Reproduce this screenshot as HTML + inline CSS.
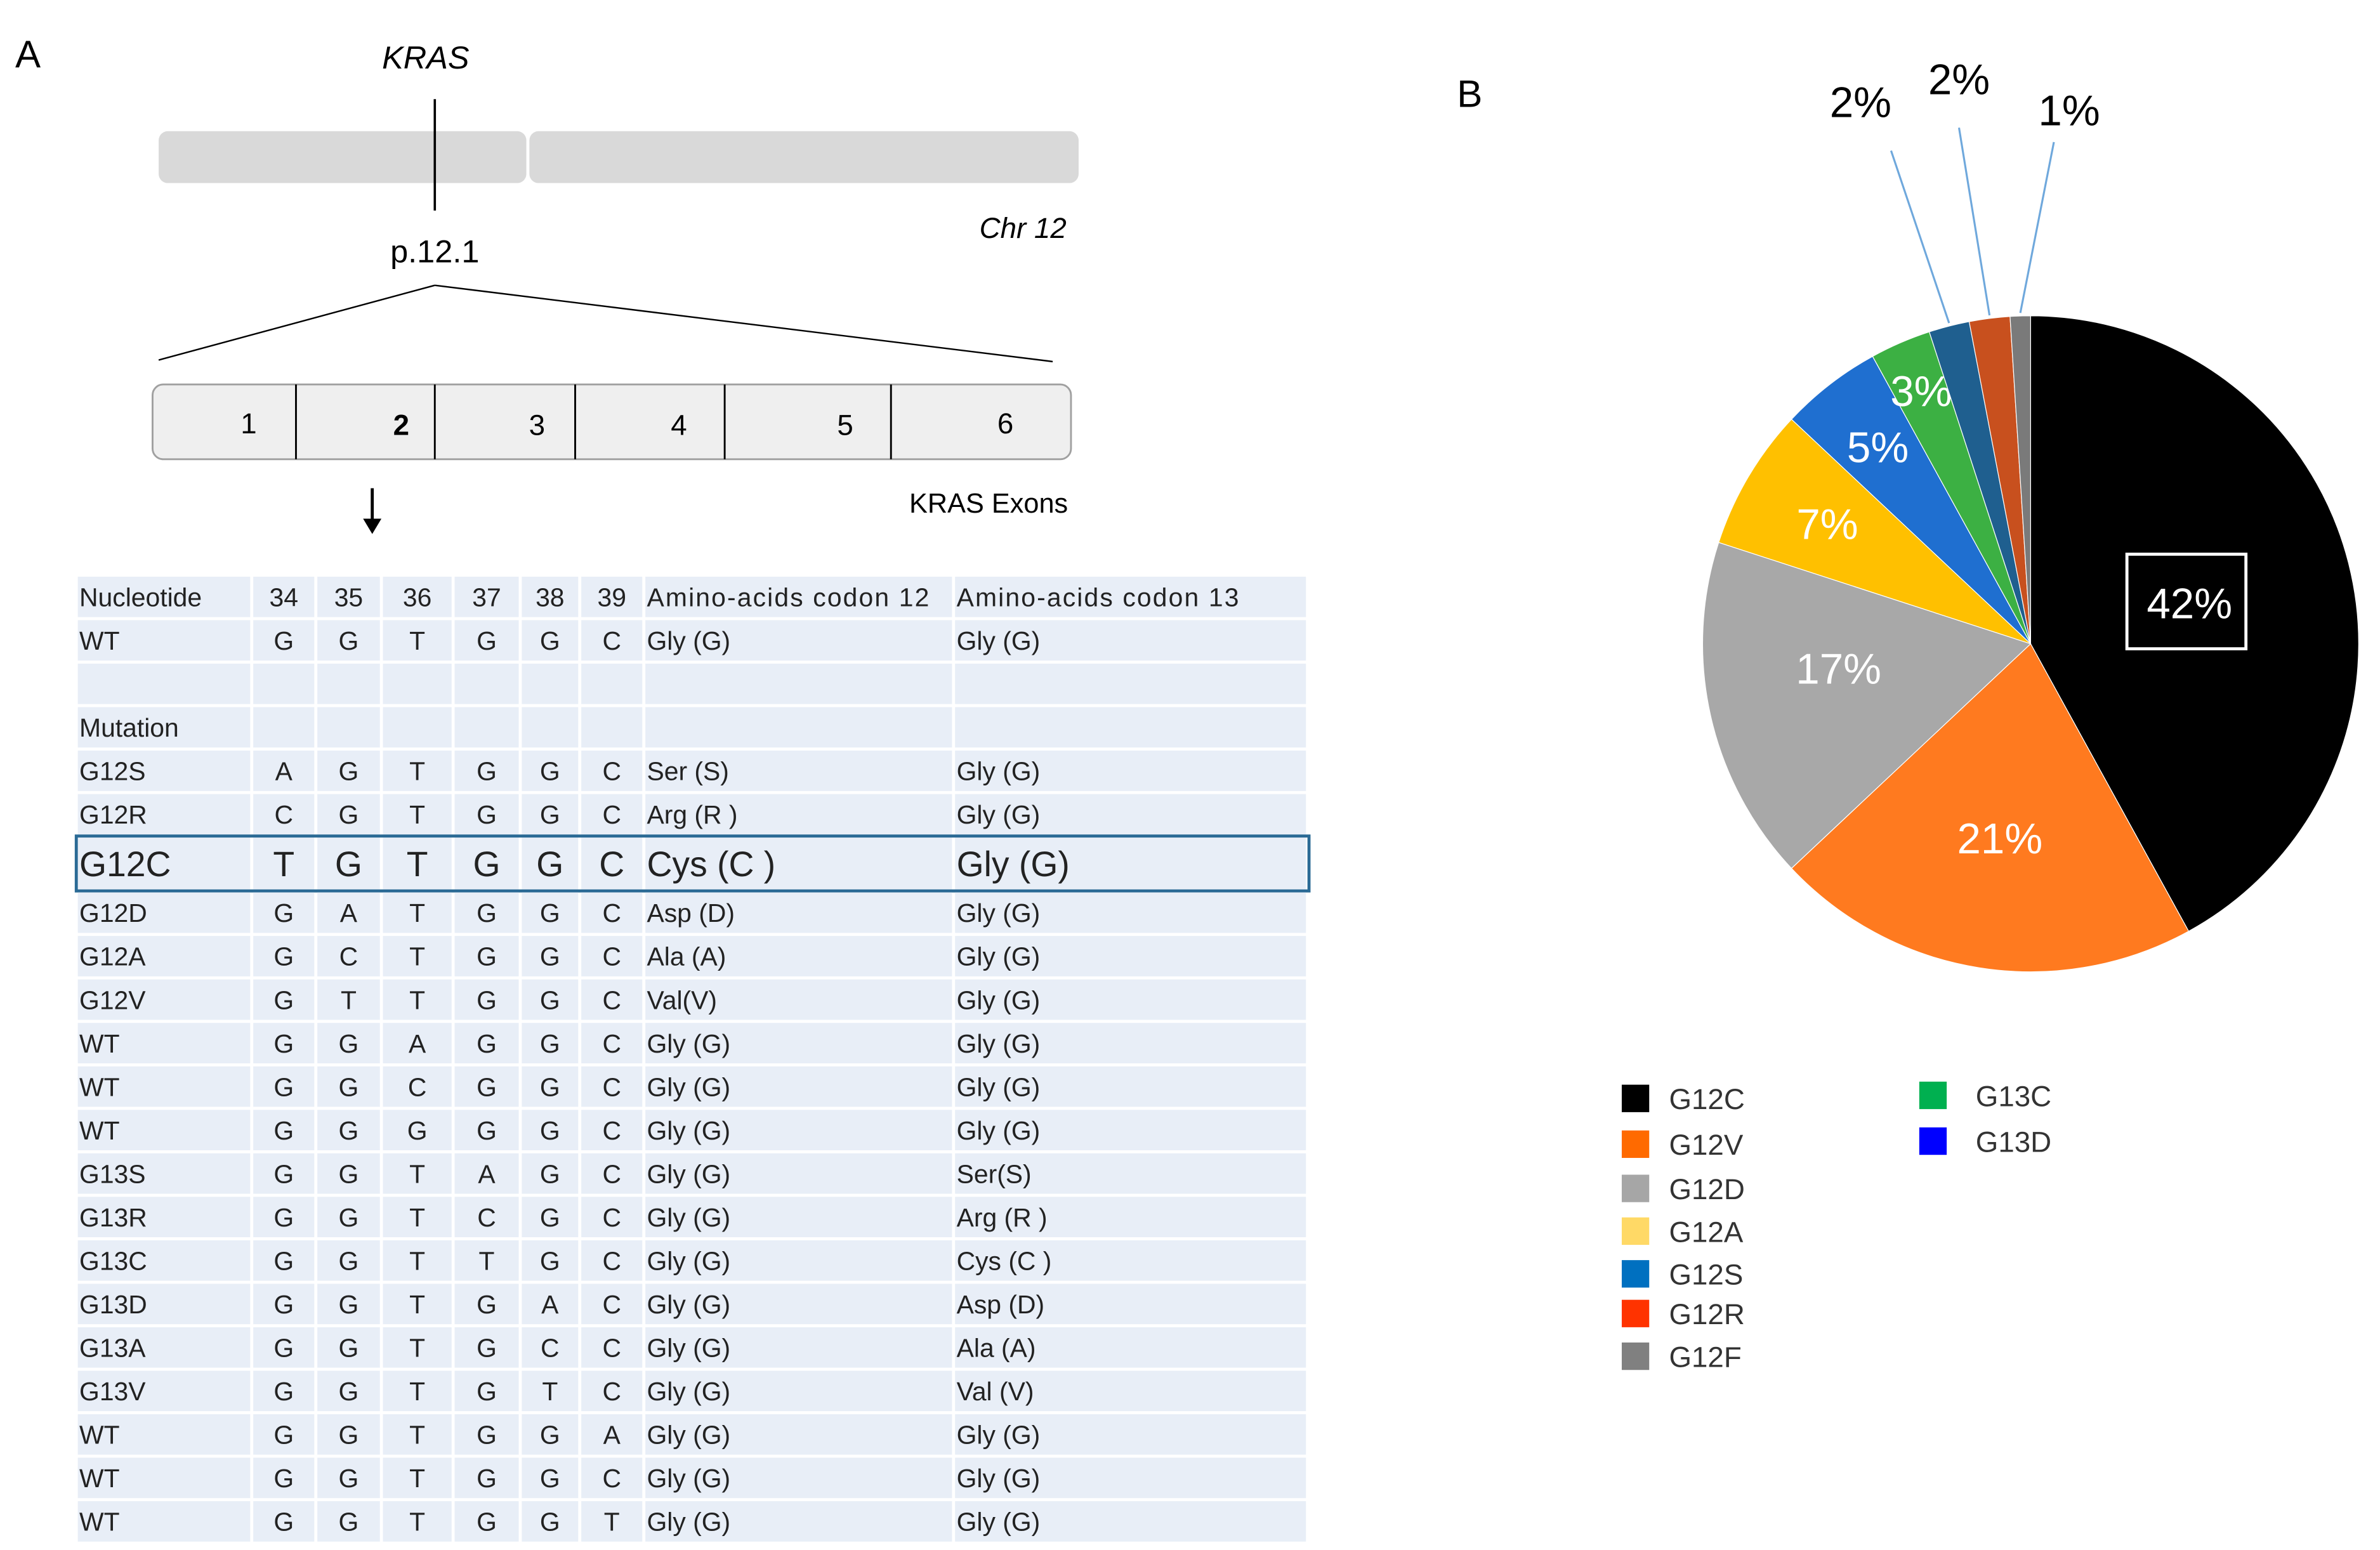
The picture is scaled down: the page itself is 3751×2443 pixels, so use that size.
<!DOCTYPE html>
<html><head><meta charset="utf-8"><style>
html,body{margin:0;padding:0;background:#fff}
svg{display:block;font-family:"Liberation Sans",sans-serif}
</style></head><body>
<svg id="fig" width="3751" height="2443" viewBox="0 0 1560 1016" xmlns="http://www.w3.org/2000/svg">
<rect width="1560" height="1016" fill="#fff"/>
<text x="10" y="44" font-size="25">A</text>
<text x="955" y="70" font-size="25">B</text>
<g>
<text x="279" y="45" font-size="21" font-style="italic" text-anchor="middle">KRAS</text>
<rect x="104" y="86" width="241" height="34" rx="6" fill="#d9d9d9"/>
<rect x="347" y="86" width="360" height="34" rx="6" fill="#d9d9d9"/>
<line x1="285" y1="65" x2="285" y2="138" stroke="#000" stroke-width="1.5"/>
<text x="285" y="172" font-size="21" text-anchor="middle">p.12.1</text>
<text x="699" y="156" font-size="19" font-style="italic" text-anchor="end">Chr 12</text>
<line x1="285" y1="187" x2="104" y2="236" stroke="#000" stroke-width="1"/>
<line x1="285" y1="187" x2="690" y2="237" stroke="#000" stroke-width="1"/>
<rect x="100" y="252" width="602" height="49" rx="7" fill="#efefef" stroke="#a0a0a0" stroke-width="1.2"/>
<g stroke="#000" stroke-width="1.2"><line x1="194" y1="252" x2="194" y2="301"/><line x1="285" y1="252" x2="285" y2="301"/><line x1="377" y1="252" x2="377" y2="301"/><line x1="475" y1="252" x2="475" y2="301"/><line x1="584" y1="252" x2="584" y2="301"/></g>
<g font-size="19" text-anchor="middle">
<text x="163" y="284">1</text><text x="263" y="285" font-weight="bold">2</text><text x="352" y="285">3</text><text x="445" y="285">4</text><text x="554" y="285">5</text><text x="659" y="284">6</text></g>
<text x="700" y="336" font-size="18" text-anchor="end">KRAS Exons</text>
<line x1="244" y1="320" x2="244" y2="344" stroke="#000" stroke-width="2"/>
<path d="M238,340 L244,350 L250,340 Z" fill="#000"/>
</g>
<g id="table"></g>
<g id="pie"></g>
<g id="legend"></g>
</svg>
<script>
const sliceNames=["G12C","G12V","G12D","G12A","G13D","G13C","G12S","G12R","G12F"];
const sliceValues=[42,21,17,7,5,3,2,2,1];
const sliceLabels=["42%","21%","17%","7%","5%","3%","2%","2%","1%"];
const sliceColors=["#000000","#ff7a1f","#a8a8a8","#ffc000","#1f6fd0","#3cb043","#1f5f8f","#c8501e","#7a7a7a"];
const legendNames=["G12C","G12V","G12D","G12A","G12S","G12R","G12F","G13C","G13D"];
const legendColors=["#000000","#ff6a00","#a6a6a6","#ffd966","#0070c0","#ff3300","#808080","#00b050","#0000ff"];
const tableRows=[
["Nucleotide","34","35","36","37","38","39","Amino-acids codon 12","Amino-acids codon 13"],
["WT","G","G","T","G","G","C","Gly (G)","Gly (G)"],
["","","","","","","","",""],
["Mutation","","","","","","","",""],
["G12S","A","G","T","G","G","C","Ser (S)","Gly (G)"],
["G12R","C","G","T","G","G","C","Arg (R )","Gly (G)"],
["G12C","T","G","T","G","G","C","Cys (C )","Gly (G)"],
["G12D","G","A","T","G","G","C","Asp (D)","Gly (G)"],
["G12A","G","C","T","G","G","C","Ala (A)","Gly (G)"],
["G12V","G","T","T","G","G","C","Val(V)","Gly (G)"],
["WT","G","G","A","G","G","C","Gly (G)","Gly (G)"],
["WT","G","G","C","G","G","C","Gly (G)","Gly (G)"],
["WT","G","G","G","G","G","C","Gly (G)","Gly (G)"],
["G13S","G","G","T","A","G","C","Gly (G)","Ser(S)"],
["G13R","G","G","T","C","G","C","Gly (G)","Arg (R )"],
["G13C","G","G","T","T","G","C","Gly (G)","Cys (C )"],
["G13D","G","G","T","G","A","C","Gly (G)","Asp (D)"],
["G13A","G","G","T","G","C","C","Gly (G)","Ala (A)"],
["G13V","G","G","T","G","T","C","Gly (G)","Val (V)"],
["WT","G","G","T","G","G","A","Gly (G)","Gly (G)"],
["WT","G","G","T","G","G","C","Gly (G)","Gly (G)"],
["WT","G","G","T","G","G","T","Gly (G)","Gly (G)"]];
const NS="http://www.w3.org/2000/svg";
function mk(tag,attrs,parent){const e=document.createElementNS(NS,tag);for(const k in attrs)e.setAttribute(k,attrs[k]);parent.appendChild(e);return e;}
const tb=document.getElementById('table');
const colB=[50,165,207,250,297,341,380,422,625,857];
let y=378;
tableRows.forEach((r,i)=>{
  const big=(r[0]==="G12C");
  const h=big?34:26.5;
  for(let c=0;c<9;c++){
    const cell=mk('rect',{x:colB[c]+1,y:y,width:colB[c+1]-colB[c]-2,height:h,fill:"#e8eef7"},tb);
    
    
    if(!r[c])continue;
    const fs=big?23:17;
    const cx=(c>=1&&c<=6)?(colB[c]+colB[c+1])/2:colB[c]+2;
    const t=mk('text',{x:cx,y:y+h/2+fs*0.36,'font-size':fs,fill:"#222",'text-anchor':(c>=1&&c<=6)?'middle':'start'},tb);
    if((c===7||c===8)&&r[c].length>12)t.setAttribute('textLength',185);
    t.textContent=r[c];
    
    
  }
  if(big){const b=mk('rect',{x:50,y:y-1,width:808,height:h+2,fill:"none",stroke:"#2a6a95","stroke-width":2},tb);
    
    }
  y+=h+2;
});
const pg=document.getElementById('pie');
const cx=1331,cy=422,R=215;
const total=sliceValues.reduce((a,b)=>a+b,0);
let a0=0;
const pt=(a,r)=>[cx+r*Math.sin(a),cy-r*Math.cos(a)];
const outOff=[[-38,-115,-20,-22],[-20,-125,0,-22],[22,-114,10,-11]];
let oi=0;
sliceValues.forEach((v,i)=>{
  const a1=a0+v/total*2*Math.PI;
  const p0=pt(a0,R),p1=pt(a1,R);
  const large=(a1-a0)>Math.PI?1:0;
  const s=mk('path',{d:`M${cx},${cy} L${p0[0]},${p0[1]} A${R},${R} 0 ${large} 1 ${p1[0]},${p1[1]} Z`,fill:sliceColors[i],stroke:"#fff","stroke-width":0.5},pg);
  
  
  const am=(a0+a1)/2;
  if(v>=3){
    const rr=v>=40?0.5:(v>=15?0.6:(v>=7?0.72:(v>=5?0.76:0.84)));
    const lp=pt(am,R*rr);
    const dy=v>=15&&v<20?-2:10;
    const t=mk('text',{x:lp[0],y:lp[1]+dy,'font-size':28,fill:"#fff",'text-anchor':'middle'},pg);
    t.textContent=sliceLabels[i];
    
    
    if(v>=40){const bb=mk('rect',{x:lp[0]-41,y:lp[1]-32,width:78,height:62,fill:"none",stroke:"#fff","stroke-width":2},pg);
      
      }
  } else {
    const e=pt(am,R);
    const off=outOff[oi++]||[0,-120,0,-20];
    const ln=mk('line',{x1:e[0],y1:e[1]-2,x2:e[0]+off[0],y2:e[1]+off[1],stroke:"#6fa8dc","stroke-width":1.3},pg);
    
    
    const t=mk('text',{x:e[0]+off[0]+off[2],y:e[1]+off[1]+off[3],'font-size':28,fill:"#000",'text-anchor':'middle'},pg);
    t.textContent=sliceLabels[i];
    
    
  }
  a0=a1;
});
const lg=document.getElementById('legend');
const lys=[720,750,779,807,835,861,889];
legendNames.forEach((n,i)=>{
  const col=i<7?0:1, row=i<7?i:i-7;
  const x=col?1258:1063, yy=col?[718,748][row]:lys[row];
  const sq=mk('rect',{x:x,y:yy-9,width:18,height:18,fill:legendColors[i]},lg);
  
  
  const t=mk('text',{x:x+(col?37:31),y:yy+7,'font-size':19,fill:"#333"},lg);
  t.textContent=n;
  
  
});
</script>
</body></html>
